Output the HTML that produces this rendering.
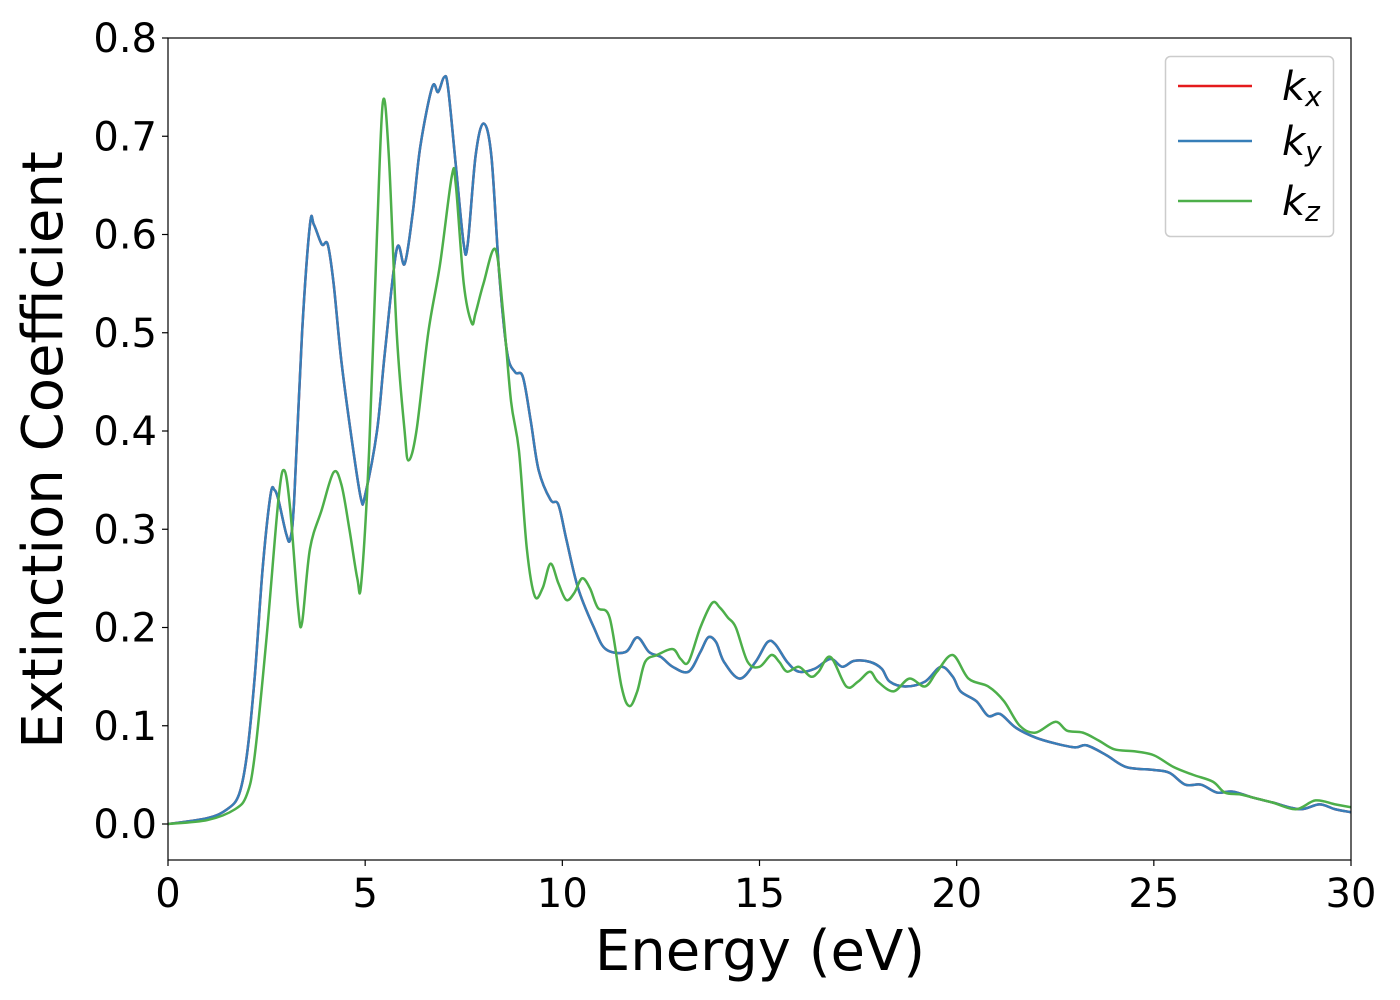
<!DOCTYPE html>
<html><head><meta charset="utf-8"><style>
html,body{margin:0;padding:0;background:#fff;width:1400px;height:1000px;overflow:hidden}
text{font-family:"DejaVu Sans","Liberation Sans",sans-serif}
</style></head><body>
<svg id="chart" width="1400" height="1000" xmlns="http://www.w3.org/2000/svg">
<g id="plot"></g>
<g id="axes"></g>
<g id="legend">
<rect x="1165.5" y="56.5" width="168" height="180" rx="5" fill="#fff" stroke="#ccc" stroke-width="1.5"/>
<g><line x1="1178" y1="86" x2="1252" y2="86" stroke="#e41a1c" stroke-width="2.5"/><text x="1282" y="100" font-size="40" font-style="italic">k<tspan font-size="28" dy="6">x</tspan></text></g>
<g><line x1="1178" y1="141" x2="1252" y2="141" stroke="#377eb8" stroke-width="2.5"/><text x="1282" y="155" font-size="40" font-style="italic">k<tspan font-size="28" dy="6">y</tspan></text></g>
<g><line x1="1178" y1="201" x2="1252" y2="201" stroke="#4daf4a" stroke-width="2.5"/><text x="1282" y="215" font-size="40" font-style="italic">k<tspan font-size="28" dy="6">z</tspan></text></g>
</g>
<text x="760" y="970" font-size="56" text-anchor="middle">Energy (eV)</text>
<text transform="translate(62,450) rotate(-90)" font-size="56" text-anchor="middle">Extinction Coefficient</text>
</svg>
<script>
const xyE=[0,1,1.5,1.8,2.0,2.2,2.4,2.6,2.7,2.8,3.0,3.1,3.2,3.4,3.6,3.7,3.9,4.05,4.2,4.4,4.7,4.9,5.0,5.3,5.5,5.8,6.0,6.2,6.4,6.7,6.85,7.0,7.1,7.3,7.5,7.6,7.8,8.0,8.2,8.4,8.6,8.8,9.0,9.2,9.4,9.7,9.9,10.1,10.4,10.8,11.1,11.6,11.9,12.2,12.5,12.8,13.2,13.5,13.7,13.9,14.1,14.5,14.9,15.2,15.4,15.7,16.0,16.4,16.8,17.1,17.4,17.8,18.1,18.3,18.7,19.2,19.6,19.9,20.1,20.5,20.8,21.1,21.5,22.0,22.5,23.0,23.3,23.8,24.3,25.0,25.4,25.8,26.2,26.6,27.0,27.5,28.0,28.7,29.2,29.6,30];
const xyK=[0,0.006,0.015,0.03,0.07,0.15,0.26,0.335,0.34,0.33,0.295,0.29,0.33,0.5,0.61,0.61,0.59,0.59,0.55,0.47,0.38,0.33,0.335,0.4,0.48,0.585,0.57,0.62,0.69,0.75,0.745,0.76,0.75,0.67,0.59,0.59,0.68,0.713,0.68,0.56,0.48,0.46,0.455,0.41,0.36,0.33,0.325,0.29,0.24,0.2,0.178,0.175,0.19,0.175,0.17,0.16,0.155,0.175,0.19,0.185,0.165,0.148,0.165,0.185,0.183,0.165,0.155,0.158,0.168,0.16,0.166,0.165,0.158,0.145,0.14,0.145,0.16,0.15,0.135,0.125,0.11,0.112,0.098,0.088,0.082,0.078,0.08,0.07,0.058,0.055,0.052,0.04,0.04,0.032,0.033,0.027,0.022,0.015,0.02,0.015,0.012];
const zE=[0,1,1.7,2.0,2.2,2.5,2.8,2.95,3.1,3.3,3.4,3.6,3.9,4.2,4.4,4.6,4.8,4.9,5.1,5.3,5.45,5.6,5.8,6.0,6.1,6.3,6.6,6.9,7.2,7.3,7.5,7.7,7.8,8.0,8.3,8.5,8.7,8.9,9.1,9.3,9.5,9.7,9.9,10.1,10.3,10.5,10.7,10.9,11.2,11.5,11.7,11.9,12.1,12.4,12.8,13.0,13.2,13.5,13.8,14.0,14.2,14.4,14.7,15.0,15.3,15.5,15.7,16.0,16.3,16.5,16.8,17.2,17.5,17.8,18.0,18.4,18.8,19.2,19.5,19.9,20.3,20.8,21.2,21.6,22.0,22.5,22.8,23.2,23.6,24.0,24.5,25.0,25.5,26.0,26.5,26.8,27.2,27.6,28.0,28.6,29.1,29.6,30];
const zK=[0,0.004,0.015,0.03,0.07,0.19,0.33,0.36,0.32,0.22,0.205,0.28,0.32,0.358,0.345,0.3,0.25,0.245,0.38,0.6,0.735,0.68,0.5,0.4,0.37,0.4,0.5,0.57,0.66,0.65,0.55,0.51,0.52,0.55,0.585,0.52,0.43,0.38,0.28,0.232,0.24,0.265,0.245,0.228,0.235,0.25,0.24,0.22,0.21,0.14,0.12,0.135,0.165,0.172,0.178,0.168,0.165,0.2,0.225,0.22,0.21,0.2,0.165,0.16,0.172,0.165,0.155,0.16,0.15,0.155,0.17,0.14,0.145,0.155,0.145,0.135,0.148,0.14,0.155,0.172,0.148,0.14,0.125,0.1,0.093,0.104,0.095,0.093,0.085,0.076,0.074,0.07,0.058,0.05,0.043,0.032,0.03,0.026,0.022,0.015,0.024,0.02,0.017];
const xTicks=[0,5,10,15,20,25,30];
const yTicks=[0.0,0.1,0.2,0.3,0.4,0.5,0.6,0.7,0.8];

const L=168,R=1351,T=38,B=860;
const sx=v=>L+(v-0)/30*(R-L);
const sy=v=>824-v/0.8*(824-T);
const NS="http://www.w3.org/2000/svg";
function mk(tag,attrs,parent){const e=document.createElementNS(NS,tag);for(const k in attrs)e.setAttribute(k,attrs[k]);parent.appendChild(e);return e;}
function pathD(E,K){
  const p=E.map((e,i)=>[sx(e),sy(K[i])]);
  let d="M"+p[0][0]+","+p[0][1];
  for(let i=0;i<p.length-1;i++){
    const p0=p[Math.max(0,i-1)],p1=p[i],p2=p[i+1],p3=p[Math.min(p.length-1,i+2)];
    const c1=[p1[0]+(p2[0]-p0[0])/6,p1[1]+(p2[1]-p0[1])/6];
    const c2=[p2[0]-(p3[0]-p1[0])/6,p2[1]-(p3[1]-p1[1])/6];
    d+=" C"+c1+" "+c2+" "+p2;
  }
  return d;
}
const plot=document.getElementById('plot');
const defs=mk('defs',{},plot);
const cp=mk('clipPath',{id:'clip'},defs);mk('rect',{x:L,y:T,width:R-L,height:B-T},cp);
const g=mk('g',{'clip-path':'url(#clip)'},plot);
const series=[[xyE,xyK,'#e41a1c','series-kx'],[xyE,xyK,'#377eb8','series-ky'],[zE,zK,'#4daf4a','series-kz']];
series.forEach(s=>{
  const p=mk('path',{d:pathD(s[0],s[1]),fill:'none',stroke:s[2],'stroke-width':2.5,'stroke-linejoin':'round'},g);
  
  
});
const ax=document.getElementById('axes');
const fr=mk('rect',{x:L,y:T,width:R-L,height:B-T,fill:'none',stroke:'#000','stroke-width':1.2},ax);


xTicks.forEach(t=>{
  const x=sx(t);
  mk('line',{x1:x,y1:B,x2:x,y2:B+6,stroke:'#000','stroke-width':1.2},ax);
  const tx=mk('text',{x:x,y:B+47,'font-size':40,'text-anchor':'middle'},ax);
  tx.textContent=t;
  
  
});
yTicks.forEach(t=>{
  const y=sy(t);
  mk('line',{x1:L-6,y1:y,x2:L,y2:y,stroke:'#000','stroke-width':1.2},ax);
  const tx=mk('text',{x:L-11,y:y+14,'font-size':40,'text-anchor':'end'},ax);
  tx.textContent=t.toFixed(1);
  
  
});
</script>
</body></html>
